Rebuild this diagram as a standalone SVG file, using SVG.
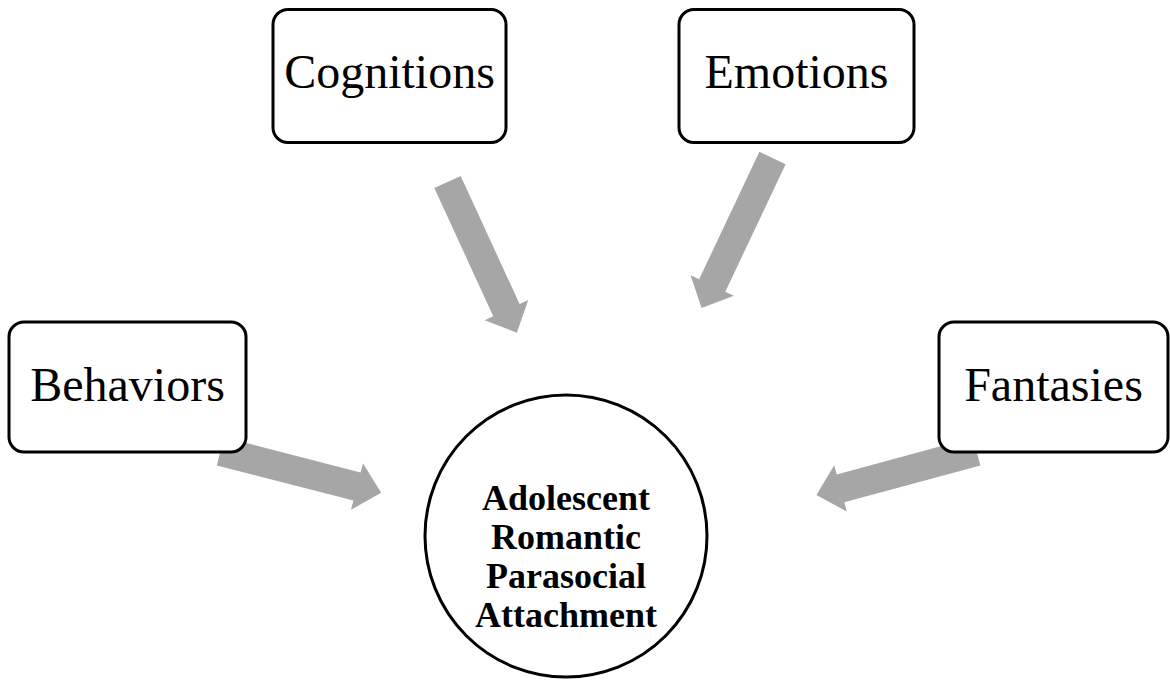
<svg xmlns="http://www.w3.org/2000/svg" width="1170" height="682" viewBox="0 0 1170 682">
  <defs>
    <style>
      .box { fill: #ffffff; stroke: #000000; stroke-width: 3; }
      .lbl { font-family: "Liberation Serif", "Times New Roman", serif; font-size: 48px; fill: #000000; text-anchor: middle; }
      .ctr { font-family: "Liberation Serif", "Times New Roman", serif; font-size: 36px; font-weight: bold; fill: #000000; text-anchor: middle; }
      .arrow { fill: #a6a6a6; stroke: none; }
    </style>
    <polygon id="arr" points="0,-14.5 141,-14.5 141,-24 166,0 141,24 141,14.5 0,14.5"/>
  </defs>
  <rect width="1170" height="682" fill="#ffffff"/>
  <g id="connectors">
    <use href="#arr" class="arrow" transform="translate(447.5,182) rotate(65.3)"/>
    <use href="#arr" class="arrow" transform="translate(772.5,158) rotate(115.3)"/>
    <use href="#arr" class="arrow" transform="translate(220.4,451.4) rotate(14.4)"/>
    <use href="#arr" class="arrow" transform="translate(976.6,451.4) rotate(164.8)"/>
  </g>
  <g id="cognitions">
    <rect class="box" x="273" y="9.5" width="233" height="133" rx="15"/>
    <text class="lbl" x="389.5" y="88">Cognitions</text>
  </g>
  <g id="emotions">
    <rect class="box" x="679" y="9.5" width="235" height="133" rx="15"/>
    <text class="lbl" x="796.5" y="88">Emotions</text>
  </g>
  <g id="behaviors">
    <rect class="box" x="9" y="322" width="237" height="130" rx="15"/>
    <text class="lbl" x="127.5" y="401">Behaviors</text>
  </g>
  <g id="fantasies">
    <rect class="box" x="939" y="322" width="229" height="130" rx="15"/>
    <text class="lbl" x="1053.5" y="401">Fantasies</text>
  </g>
  <g id="center">
    <circle class="box" cx="566" cy="536" r="141"/>
    <text class="ctr" x="566" y="510">Adolescent</text>
    <text class="ctr" x="566" y="549">Romantic</text>
    <text class="ctr" x="566" y="588">Parasocial</text>
    <text class="ctr" x="566" y="627">Attachment</text>
  </g>
</svg>
